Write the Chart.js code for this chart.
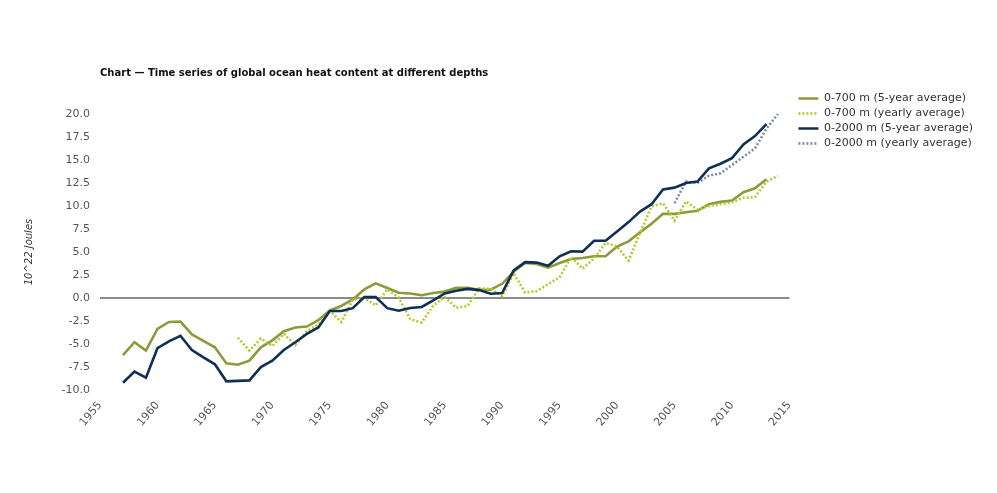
<!DOCTYPE html>
<html>
<head>
<meta charset="utf-8">
<title>Global ocean heat content</title>
<script src="https://cdn.jsdelivr.net/npm/chart.js@4.4.1/dist/chart.umd.min.js"></script>
<style>
  html, body { margin: 0; padding: 0; background: #fff; }
  #wrap { width: 997px; height: 493px; position: relative; }
</style>
</head>
<body>
<div id="wrap"><canvas id="ohcChart"></canvas></div>
<script>
// Datos (10^22 J)
const start5yr = 1957;
const startYearly700 = 1967;
const startYearly2000 = 2005;

const ohc700_5yr = [
    -6.2, -4.8, -5.7, -3.35, -2.6, -2.55, -3.95, -4.65, -5.35, -7.1,
    -7.25, -6.8, -5.35, -4.6, -3.6, -3.2, -3.1, -2.4, -1.35,
    -0.86, -0.15, 0.94, 1.6, 1.1, 0.58, 0.5, 0.3, 0.54, 0.7,
    1.1, 1.1, 0.9, 0.9, 1.55, 2.85, 3.8, 3.7, 3.3,
    3.8, 4.25, 4.36, 4.54, 4.54, 5.6, 6.16, 7.14, 8.07, 9.15,
    9.15, 9.33, 9.48, 10.2, 10.45, 10.6, 11.5, 11.93, 12.9
];

const ohc700_yearly = [
    -4.3, -5.7, -4.4, -5.2, -3.9, -5.1, -3.6, -2.9, -1.4,
    -2.6, -0.2, 0.0, -0.8, 0.95, 0.05, -2.3, -2.65, -0.85, 0.1,
    -1.05, -0.85, 1.05, 1.0, 0.2, 2.7, 0.6, 0.75, 1.5,
    2.27, 4.47, 3.2, 4.3, 6.0, 5.6, 4.07, 7.06, 9.95, 10.3,
    8.4, 10.5, 9.6, 10.0, 10.2, 10.4, 10.9, 10.95, 12.65, 13.26
];

const ohc2000_5yr = [
    -9.2, -8.0, -8.65, -5.45, -4.7, -4.1, -5.65, -6.45, -7.2, -9.05,
    -9.0, -8.95, -7.5, -6.8, -5.65, -4.8, -3.9, -3.2, -1.4,
    -1.4, -1.1, 0.1, 0.1, -1.1, -1.37, -1.08, -0.97, -0.25, 0.5,
    0.8, 1.0, 0.86, 0.47, 0.54, 3.0, 3.9, 3.85, 3.5,
    4.54, 5.08, 5.05, 6.23, 6.23, 7.24, 8.25, 9.4, 10.2, 11.8,
    12.0, 12.5, 12.65, 14.1, 14.6, 15.2, 16.7, 17.6, 18.9
];

const ohc2000_yearly = [10.3, 12.65, 12.5, 13.3, 13.55, 14.45, 15.35, 16.25, 18.4, 20.0];

const seriesLabels = [
    '0-700 m (5-year average)',
    '0-700 m (yearly average)',
    '0-2000 m (5-year average)',
    '0-2000 m (yearly average)'
];

// convierte una serie en puntos {x: año, y: valor}
function toPoints(firstYear, values) {
    return values.map((v, i) => ({ x: firstYear + i, y: v }));
}

Chart.defaults.font.family = "'DejaVu Sans', Verdana, sans-serif";
Chart.defaults.color = '#555';

// mueve la leyenda un poco a la derecha, como en el original
const legendShift = {
    id: 'legendShift',
    afterLayout(chart) {
        if (chart.legend) {
            chart.legend.left += 5;
            chart.legend.right += 5;
        }
    }
};

document.addEventListener('DOMContentLoaded', function() {
    const ctx = document.getElementById('ohcChart').getContext('2d');
    new Chart(ctx, {
        type: 'line',
        plugins: [legendShift],
        data: {
            datasets: [{
                label: seriesLabels[0],
                data: toPoints(start5yr, ohc700_5yr),
                borderColor: '#8b9b3b',
                backgroundColor: '#8b9b3b',
                borderWidth: 2.6,
                pointStyle: 'line',
                order: 3
            }, {
                label: seriesLabels[1],
                data: toPoints(startYearly700, ohc700_yearly),
                borderColor: '#b9c72e',
                backgroundColor: '#b9c72e',
                borderWidth: 2.6,
                borderDash: [2, 2],
                pointStyle: 'line',
                order: 2
            }, {
                label: seriesLabels[2],
                data: toPoints(start5yr, ohc2000_5yr),
                borderColor: '#0f2f55',
                backgroundColor: '#0f2f55',
                borderWidth: 2.6,
                pointStyle: 'line',
                order: 0
            }, {
                label: seriesLabels[3],
                data: toPoints(startYearly2000, ohc2000_yearly),
                borderColor: '#7c8ca6',
                backgroundColor: '#7c8ca6',
                borderWidth: 2.6,
                borderDash: [2, 2],
                pointStyle: 'line',
                order: 1
            }]
        },
        options: {
            responsive: true,
            maintainAspectRatio: false,
            animation: false,
            clip: false,
            elements: {
                point: { radius: 0, hoverRadius: 0 },
                line: { tension: 0, borderCapStyle: 'butt' }
            },
            layout: {
                padding: { top: 60, left: 19, right: 19, bottom: 63 }
            },
            plugins: {
                title: {
                    display: true,
                    text: 'Chart — Time series of global ocean heat content at different depths',
                    align: 'start',
                    fullSize: false,
                    color: '#111',
                    font: { size: 10, weight: 'bold' },
                    padding: { top: 7, bottom: 35 }
                },
                legend: {
                    position: 'right',
                    align: 'start',
                    title: { display: true, text: '', font: { size: 10 }, padding: { top: 0, bottom: 17 } },
                    labels: {
                        usePointStyle: true,
                        pointStyleWidth: 20,
                        padding: 4,
                        color: '#333',
                        font: { size: 11 },
                        sort: (a, b) => a.datasetIndex - b.datasetIndex,
                        generateLabels: function(chart) {
                            const items = Chart.defaults.plugins.legend.labels.generateLabels(chart);
                            items.forEach(item => {
                                const ds = chart.data.datasets[item.datasetIndex];
                                item.lineDash = ds.borderDash || [];
                                item.lineWidth = 2.6;
                                item.strokeStyle = ds.borderColor;
                            });
                            return items;
                        }
                    }
                },
                tooltip: { enabled: false }
            },
            scales: {
                x: {
                    type: 'linear',
                    min: 1955,
                    max: 2015,
                    grid: { display: false },
                    border: { display: false },
                    ticks: {
                        stepSize: 5,
                        minRotation: 50,
                        maxRotation: 50,
                        padding: 1,
                        font: { size: 11 },
                        callback: v => String(v)
                    }
                },
                y: {
                    min: -10,
                    max: 20,
                    border: { display: false },
                    grid: {
                        drawTicks: false,
                        color: c => c.tick && c.tick.value === 0 ? '#8a8a8a' : 'rgba(0,0,0,0)',
                        lineWidth: c => c.tick && c.tick.value === 0 ? 2 : 0
                    },
                    ticks: {
                        stepSize: 2.5,
                        padding: 10,
                        font: { size: 11 },
                        callback: v => v.toFixed(1)
                    },
                    title: {
                        display: true,
                        text: '10^22 Joules',
                        color: '#333',
                        font: { size: 10, style: 'italic' },
                        padding: 4
                    },
                    afterFit: function(scale) {
                        scale.width = 81;
                    }
                }
            }
        }
    });
});
</script>
</body>
</html>
